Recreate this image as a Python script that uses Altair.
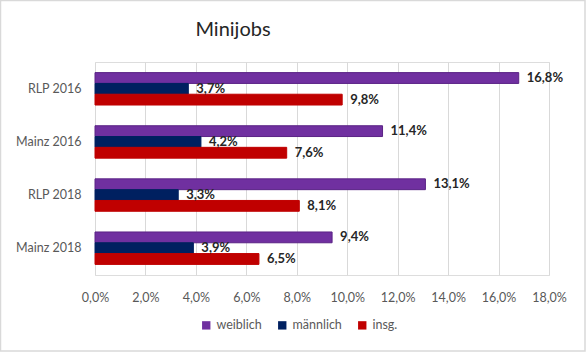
import altair as alt
import pandas as pd

title_text = ["Minijobs"]
categories = ["RLP 2016", "Mainz 2016", "RLP 2018", "Mainz 2018"]
series = ["weiblich", "männlich", "insg."]
weiblich = [16.8, 11.4, 13.1, 9.4]
maennlich = [3.7, 4.2, 3.3, 3.9]
insg = [9.8, 7.6, 8.1, 6.5]
ticks = [0, 2, 4, 6, 8, 10, 12, 14, 16, 18]
colors = ["#7030A0", "#002060", "#C00000"]
strokes = ["#5A2385", "#002060", "#C00000"]

rows = []
for s, vals in zip(series, [weiblich, maennlich, insg]):
    for c, v in zip(categories, vals):
        rows.append({"cat": c, "serie": s, "wert": v,
                     "label": f"{v:.1f}".replace(".", ",") + "%"})
df = pd.DataFrame(rows)

FONT = "Lato"

y_enc = alt.Y("cat:N", sort=categories, title=None,
              scale=alt.Scale(paddingInner=0.39, paddingOuter=0.2),
              axis=alt.Axis(domain=False, ticks=False, labelFont=FONT, labelFontSize=12.5,
                            labelColor="#595959", labelPadding=14))
yoff = alt.YOffset("serie:N", sort=series, scale=alt.Scale(paddingInner=0.0))
x_enc = alt.X("wert:Q", title=None,
              scale=alt.Scale(domain=[0, 18], nice=False),
              axis=alt.Axis(values=ticks, domain=False, ticks=False, grid=True,
                            gridColor="#D9D9D9", labelFont=FONT, labelFontSize=12.5,
                            labelColor="#595959", labelPadding=16, labelFlush=False,
                            labelExpr="replace(format(datum.value, '.1f'), '.', ',') + '%'"))

bars = alt.Chart(df).mark_bar(strokeWidth=1).encode(
    y=y_enc, yOffset=yoff, x=x_enc,
    color=alt.Color("serie:N", sort=series,
                    scale=alt.Scale(domain=series, range=colors),
                    legend=alt.Legend(title=None, orient="none", direction="horizontal",
                                      legendX=105, legendY=257, symbolType="square",
                                      symbolSize=70, symbolStrokeWidth=0,
                                      labelFont=FONT, labelFontSize=12.5, labelColor="#595959",
                                      columnPadding=14, labelOffset=4)),
    stroke=alt.Stroke("serie:N", sort=series,
                      scale=alt.Scale(domain=series, range=strokes), legend=None),
)

labels = alt.Chart(df).mark_text(align="left", baseline="middle", dx=8,
                                 font=FONT, fontSize=13, fontWeight="bold",
                                 color="#262626").encode(
    y=alt.Y("cat:N", sort=categories), yOffset=yoff, x="wert:Q", text="label:N")

border = alt.Chart(pd.DataFrame({"a": [0]})).mark_rect(
    fill=None, stroke="#D9D9D9", strokeWidth=1.5, clip=False).encode(
    x=alt.value(-94.5), x2=alt.value(454 + 37 - 1), y=alt.value(-61.5), y2=alt.value(213 + 77 - 1))

title = alt.Chart(pd.DataFrame({"t": title_text})).mark_text(
    align="center", baseline="middle", font=FONT, fontSize=20, color="#262626",
    clip=False).encode(x=alt.value(138), y=alt.value(-32), text="t:N")

chart = alt.layer(bars, labels, border, title).properties(
    width=454, height=213,
    autosize=alt.AutoSizeParams(type="none"),
    padding={"left": 95, "top": 62, "right": 37, "bottom": 77},
).configure_view(stroke=None).configure(background="white")

chart.save("out.html", embed_options={"renderer": "svg", "actions": False})
